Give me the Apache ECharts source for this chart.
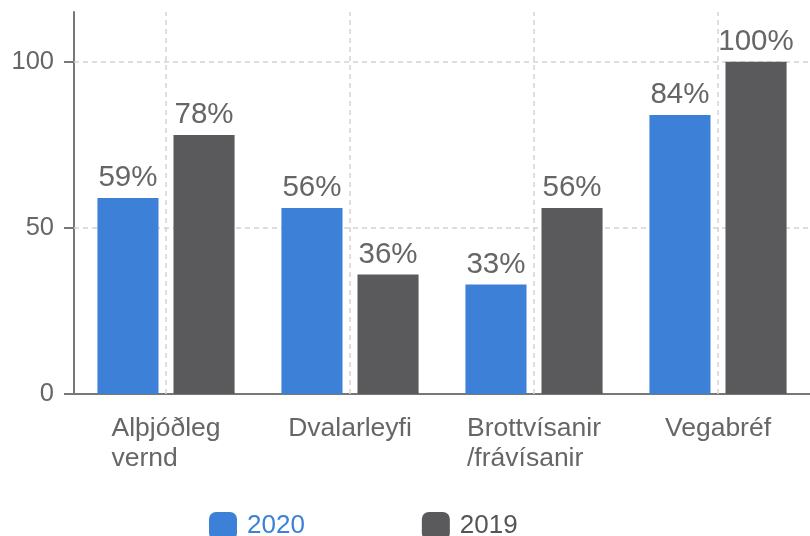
<!DOCTYPE html>
<html>
<head>
<meta charset="utf-8">
<script src="https://cdn.jsdelivr.net/npm/echarts@6/dist/echarts.min.js"></script>
<style>
	html, body { margin: 0; padding: 0; background: #fff; }
	#main { width: 810px; height: 536px; }
</style>
</head>
<body>
<div id="main"></div>
<script>
	var categories = [ 'Alþjóðleg\nvernd', 'Dvalarleyfi', 'Brottvísanir\n/frávísanir', 'Vegabréf' ];
	var seriesNames = [ '2020', '2019' ];
	var values2020 = [ 59, 56, 33, 84 ];
	var values2019 = [ 78, 36, 56, 100 ];
	var yTicks = [ 0, 50, 100 ];

	var font = 'Liberation Sans, Arial, sans-serif';
	var blue = '#3d80d7';
	var grey = '#5a5a5c';
	var dash = { color : '#d4d4d4', type : [ 5, 4 ], width : 1.5 };

	// lodrettar punktalinur i midju hvers flokks
	var centerLines = [];
	for (var i = 0; i < categories.length; i++) {
		centerLines.push({ xAxis : categories[i] });
	}
	// laretar linur vid 50 og 100
	var valueLines = [];
	for (var j = 1; j < yTicks.length; j++) {
		valueLines.push({ yAxis : yTicks[j] });
	}

	var labelStyle = {
		show : true,
		position : 'top',
		distance : 5,
		color : '#666',
		fontSize : 29.5,
		fontFamily : font,
		formatter : '{c}%'
	};

	var options = {
		animation : false,
		grid : {
			left : 74,
			width : 742,
			top : 12,
			bottom : 142
		},
		legend : {
			data : [ {
				name : seriesNames[0],
				textStyle : { color : blue }
			}, {
				name : seriesNames[1],
				textStyle : { color : '#555' }
			} ],
			left : 209,
			top : 512,
			padding : 0,
			itemWidth : 28,
			itemHeight : 28,
			itemGap : 117,
			icon : 'roundRect',
			textStyle : {
				fontSize : 26,
				fontFamily : font,
				padding : [ 0, 0, 0, 5 ]
			}
		},
		xAxis : [ {
			type : 'category',
			data : categories,
			axisLine : {
				lineStyle : { color : '#777', width : 2 }
			},
			axisTick : {
				alignWithLabel : true,
				length : 10,
				lineStyle : { color : '#777', width : 2 }
			},
			axisLabel : {
				interval : 0,
				margin : 20,
				fontSize : 26.5,
				lineHeight : 30,
				color : '#666',
				fontFamily : font,
				formatter : function(value) {
					return value.split('\n').map(function(line) {
						return '{l|' + line + '}';
					}).join('\n');
				},
				rich : {
					l : {
						align : 'left',
						fontSize : 26.5,
						lineHeight : 30,
						color : '#666',
						fontFamily : font
					}
				}
			},
			splitLine : { show : false }
		} ],
		yAxis : [ {
			type : 'value',
			min : yTicks[0],
			max : 115,
			interval : yTicks[1] - yTicks[0],
			axisLine : {
				show : true,
				lineStyle : { color : '#777', width : 2 }
			},
			axisTick : {
				show : true,
				length : 10,
				customValues : yTicks,
				lineStyle : { color : '#777', width : 2 }
			},
			axisLabel : {
				margin : 20,
				fontSize : 25.5,
				color : '#666',
				fontFamily : font,
				customValues : yTicks
			},
			splitLine : { show : false }
		} ],
		series : [ {
			name : seriesNames[0],
			type : 'bar',
			data : values2020,
			barWidth : '33.2%',
			barGap : '24.5%',
			itemStyle : { color : blue },
			label : labelStyle,
			z : 3
		}, {
			name : seriesNames[1],
			type : 'bar',
			data : values2019,
			barWidth : '33.2%',
			barGap : '24.5%',
			itemStyle : { color : grey },
			label : labelStyle,
			z : 3
		}, {
			// tom rod sem ber netlinurnar
			name : 'grid',
			type : 'line',
			data : [],
			silent : true,
			z : 1,
			markLine : {
				silent : true,
				animation : false,
				z : 1,
				symbol : [ 'none', 'none' ],
				label : { show : false },
				lineStyle : dash,
				data : centerLines.concat(valueLines)
			}
		} ]
	};

	var chart = echarts.init(document.getElementById('main'));
	chart.setOption(options);
</script>
</body>
</html>
